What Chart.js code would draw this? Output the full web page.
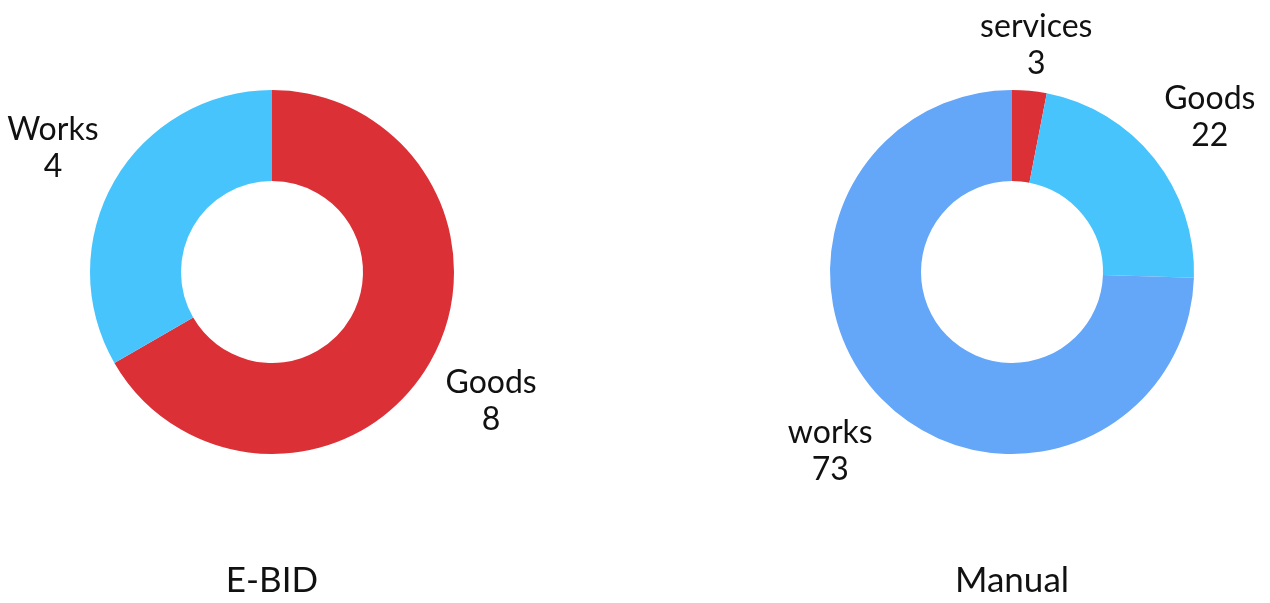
<!DOCTYPE html>
<html>
<head>
<meta charset="utf-8">
<script src="https://cdn.jsdelivr.net/npm/chart.js@4"></script>
<style>
  html, body { margin: 0; padding: 0; background: #fff; overflow: hidden; }
  .box { position: absolute; top: 0; height: 603px; }
</style>
</head>
<body>
<div class="box" style="left:0; width:544px;"><canvas id="ebidChart" width="544" height="603"></canvas></div>
<div class="box" style="left:740px; width:544px;"><canvas id="manualChart" width="544" height="603"></canvas></div>
<script>
// Data
const ebidLabels = ['Goods', 'Works'];
const ebidValues = [8, 4];
const ebidColors = ['#dc3037', '#48c4fc'];

const manualLabels = ['services', 'Goods', 'works'];
const manualValues = [3, 22, 73];
const manualColors = ['#dc3037', '#48c4fc', '#64a6f8'];

const FONT = "'Lato', sans-serif";

// draws "name\nvalue" outside each slice
const outerLabels = {
    id: 'outerLabels',
    afterDatasetsDraw(chart) {
        const ctx = chart.ctx;
        const meta = chart.getDatasetMeta(0);
        const ds = chart.data.datasets[0];
        ctx.save();
        ctx.font = '32px ' + FONT;
        ctx.fillStyle = '#111';
        ctx.textAlign = 'center';
        ctx.textBaseline = 'middle';
        const lh = 37;
        meta.data.forEach((arc, i) => {
            const a = (arc.startAngle + arc.endAngle) / 2;
            const r = arc.outerRadius * 1.39;
            const x = arc.x + Math.cos(a) * r;
            let y = arc.y + Math.sin(a) * r + 3;
            y = Math.max(y, lh + 8);
            ctx.fillText(chart.data.labels[i], x, y - lh / 2);
            ctx.fillText(String(ds.data[i]), x, y + lh / 2);
        });
        ctx.restore();
    }
};

function makeDoughnut(id, labels, values, colors, title) {
    return new Chart(document.getElementById(id).getContext('2d'), {
        type: 'doughnut',
        data: { labels: labels, datasets: [
            { data: values, backgroundColor: colors, borderWidth: 0 }
        ]},
        options: {
            responsive: false,
            animation: false,
            cutout: '50%',
            layout: { padding: { top: 90, left: 90, right: 90, bottom: 0 } },
            plugins: {
                legend: { display: false },
                tooltip: { enabled: false },
                title: {
                    display: true,
                    text: title,
                    position: 'bottom',
                    color: '#111',
                    font: { family: FONT, size: 35, weight: 'normal', lineHeight: 1.2 },
                    padding: { top: 106, bottom: 1 }
                }
            }
        },
        plugins: [outerLabels]
    });
}

makeDoughnut('ebidChart', ebidLabels, ebidValues, ebidColors, 'E-BID');
makeDoughnut('manualChart', manualLabels, manualValues, manualColors, 'Manual');
</script>
</body>
</html>
